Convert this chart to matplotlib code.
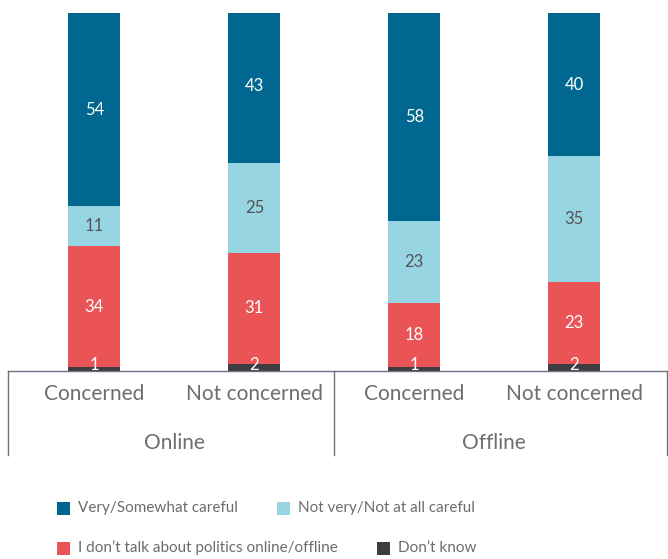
import matplotlib.pyplot as plt
from matplotlib.patches import Rectangle

plt.rcParams['font.family'] = ['Lato', 'DejaVu Sans']

categories = ['Concerned', 'Not concerned', 'Concerned', 'Not concerned']
groups = ['Online', 'Offline']
dont_know = [1, 2, 1, 2]
no_talk = [34, 31, 18, 23]
not_careful = [11, 25, 23, 35]
careful = [54, 43, 58, 40]

series = [
    ("Don\u2019t know", dont_know, '#3d3d3f', 'white'),
    ('I don\u2019t talk about politics online/offline', no_talk, '#ea5456', 'white'),
    ('Not very/Not at all careful', not_careful, '#97d5e3', '#555555'),
    ('Very/Somewhat careful', careful, '#006890', 'white'),
]

text_grey = '#6d6d6d'
line_col = '#6b7282'

fig = plt.figure(figsize=(6.68, 5.59), dpi=100)
ax = fig.add_axes([8 / 668, 188 / 559, 659 / 668, 358 / 559])

x = list(range(len(categories)))
bottom = [0] * len(categories)
for name, vals, col, tcol in series:
    ax.bar(x, vals, width=0.325, bottom=bottom, color=col, linewidth=0)
    for i, v in enumerate(vals):
        if v <= 3:
            y = bottom[i] + 1.8
        else:
            y = bottom[i] + v / 2
        ax.text(x[i], y, str(v), ha='center', va='center', fontsize=12,
                color=tcol)
    bottom = [b + v for b, v in zip(bottom, vals)]

ax.set_xlim(-0.54, 3.58)
ax.set_ylim(0, 100)
ax.axis('off')

# axis line and group separators
ax.plot([-0.54, 3.58], [0, 0], color=line_col, lw=1, clip_on=False)
for xv in [-0.54, 1.5, 3.58]:
    ax.plot([xv, xv], [0, -0.235], color=line_col, lw=1, clip_on=False,
            transform=ax.get_xaxis_transform())

for i, c in enumerate(categories):
    ax.text(x[i], -0.063, c, ha='center', va='center', fontsize=15,
            color=text_grey, transform=ax.get_xaxis_transform())
for g, gx in zip(groups, [0.5, 2.5]):
    ax.text(gx, -0.2, g, ha='center', va='center', fontsize=15,
            color=text_grey, transform=ax.get_xaxis_transform())

# legend drawn by hand (columns are not aligned between rows)
legend_items = [
    (series[3][0], series[3][2], 57, 508),
    (series[2][0], series[2][2], 277, 508),
    (series[1][0], series[1][2], 57, 548),
    (series[0][0], series[0][2], 377, 548),
]
for name, col, px, py in legend_items:
    fig.patches.append(Rectangle((px / 668, (559 - py - 6.5) / 559), 13 / 668, 13 / 559,
                                 transform=fig.transFigure, color=col, lw=0))
    fig.text((px + 21) / 668, (559 - py) / 559, name, ha='left', va='center',
             fontsize=11, color=text_grey)

fig.savefig('out.png', dpi=100)
